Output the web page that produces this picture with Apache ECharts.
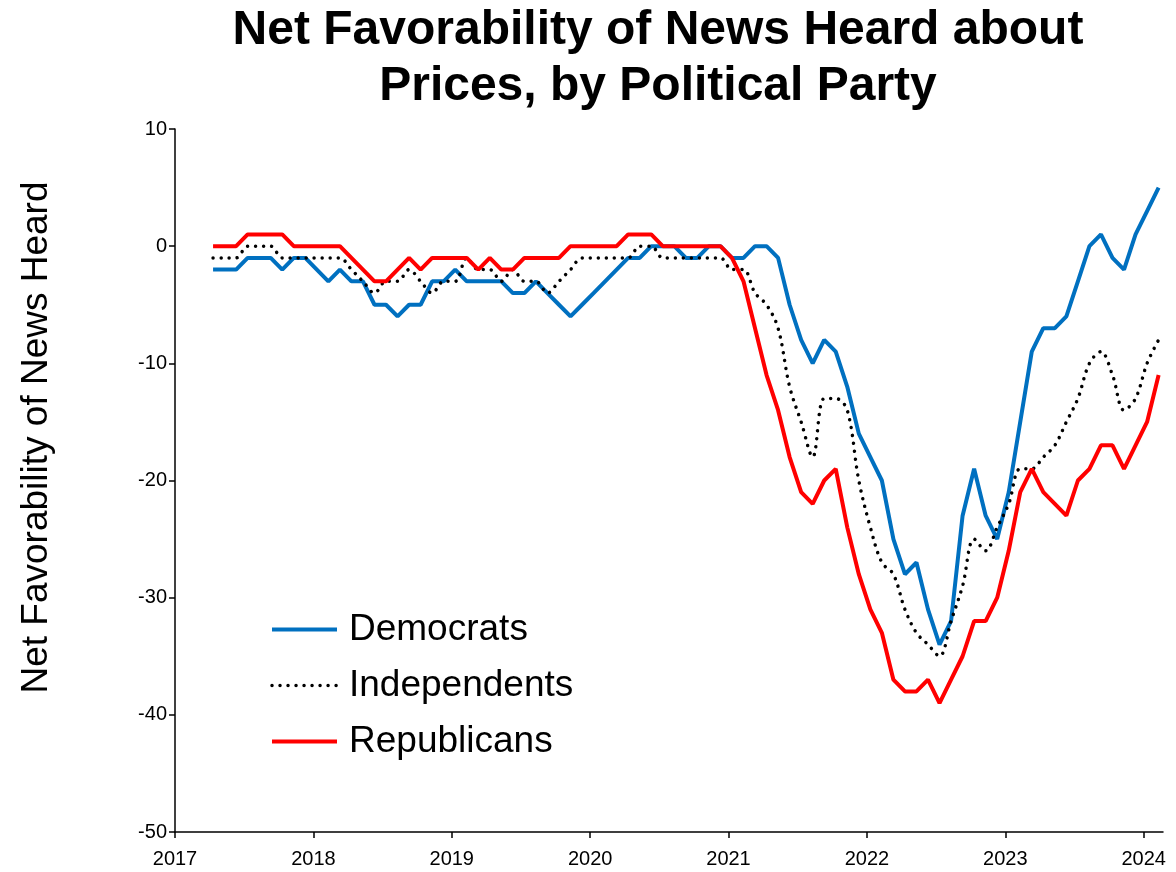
<!DOCTYPE html>
<html>
<head>
<meta charset="utf-8">
<script src="https://cdn.jsdelivr.net/npm/echarts@6/dist/echarts.min.js"></script>
<style>
  html, body { margin: 0; padding: 0; background: #fff; }
  #chart { width: 1176px; height: 872px; }
</style>
</head>
<body>
<div id="chart"></div>
<script>
// monthly readings, Apr 2017 .. Feb 2024
const firstMonth = [2017, 4];

const democrats = [
  -2, -2, -2, -1, -1, -1, -2, -1, -1, -2,
  -3, -2, -3, -3, -5, -5, -6, -5, -5, -3,
  -3, -2, -3, -3, -3, -3, -4, -4, -3, -4,
  -5, -6, -5, -4, -3, -2, -1, -1, 0, 0,
  0, -1, -1, 0, 0, -1, -1, 0, 0, -1,
  -5, -8, -10, -8, -9, -12, -16, -18, -20, -25,
  -28, -27, -31, -34, -32, -23, -19, -23, -25, -21,
  -15, -9, -7, -7, -6, -3, 0, 1, -1, -2,
  1, 3, 5
];

const independents = [
  -1, -1, -1, 0, 0, 0, -1, -1, -1, -1,
  -1, -1, -2, -3, -4, -3, -3, -2, -3, -4,
  -3, -3, -1, -2, -2, -3, -2, -3, -3, -4,
  -3, -2, -1, -1, -1, -1, -1, 0, 0, -1,
  -1, -1, -1, -1, -1, -2, -2, -4, -5, -7,
  -12, -15, -18, -13, -13, -14, -20, -24, -27, -28,
  -31, -33, -34, -35, -32, -29, -25, -26, -24, -22,
  -19, -19, -18, -17, -15, -13, -10, -9, -11, -14,
  -13, -10, -8
];

const republicans = [
  0, 0, 0, 1, 1, 1, 1, 0, 0, 0,
  0, 0, -1, -2, -3, -3, -2, -1, -2, -1,
  -1, -1, -1, -2, -1, -2, -2, -1, -1, -1,
  -1, 0, 0, 0, 0, 0, 1, 1, 1, 0,
  0, 0, 0, 0, 0, -1, -3, -7, -11, -14,
  -18, -21, -22, -20, -19, -24, -28, -31, -33, -37,
  -38, -38, -37, -39, -37, -35, -32, -32, -30, -26,
  -21, -19, -21, -22, -23, -20, -19, -17, -17, -19,
  -17, -15, -11
];

const yearTicks = [2017, 2018, 2019, 2020, 2021, 2022, 2023, 2024];

// each month as a decimal year (readings sit a little into the month)
const monthX = democrats.map((_, i) => firstMonth[0] + (firstMonth[1] - 1 + i + 0.3) / 12);
const pairs = vals => vals.map((v, i) => [monthX[i], v]);

const font = "'Liberation Sans', Arial, sans-serif";
const dotted = [0.01, 8];

const chart = echarts.init(document.getElementById('chart'));
chart.setOption({
  animation: false,
  backgroundColor: '#fff',
  textStyle: { fontFamily: font },
  title: {
    text: 'Net Favorability of News Heard about\nPrices, by Political Party',
    left: 658,
    top: 3,
    padding: 0,
    textAlign: 'center',
    textStyle: { fontFamily: font, fontSize: 48, fontWeight: 'bold', color: '#000', lineHeight: 56 }
  },
  grid: { left: 175, right: 13, top: 129, bottom: 40, containLabel: false },
  legend: {
    orient: 'vertical',
    left: 270,
    top: 611,
    padding: 0,
    itemWidth: 65,
    itemHeight: 14,
    itemGap: 19,
    itemStyle: { opacity: 0 },
    lineStyle: { width: 4 },
    textStyle: { fontFamily: font, fontSize: 37, color: '#000', lineHeight: 37, padding: [0, 0, 0, 7] },
    data: [
      { name: 'Democrats' },
      { name: 'Independents', lineStyle: { width: 3.5, type: dotted, cap: 'round' } },
      { name: 'Republicans' }
    ]
  },
  xAxis: {
    type: 'value',
    min: 2017,
    max: 2024.14,
    interval: 1,
    splitLine: { show: false },
    axisLine: { show: true, onZero: false, lineStyle: { color: '#000', width: 1.5 } },
    axisTick: { show: true, length: 6, customValues: yearTicks, lineStyle: { color: '#000', width: 1.5 } },
    axisLabel: {
      customValues: yearTicks,
      margin: 17,
      fontSize: 20,
      color: '#000',
      fontFamily: font,
      formatter: v => String(v)
    }
  },
  yAxis: {
    type: 'value',
    min: -50,
    max: 10,
    interval: 10,
    name: 'Net Favorability of News Heard',
    nameLocation: 'middle',
    nameRotate: 90,
    nameGap: 120,
    nameTextStyle: { fontFamily: font, fontSize: 37, color: '#000', padding: [0, 0, 0, 86] },
    splitLine: { show: false },
    axisLine: { show: true, lineStyle: { color: '#000', width: 1.5 } },
    axisTick: { show: true, length: 6, lineStyle: { color: '#000', width: 1.5 } },
    axisLabel: { margin: 8, fontSize: 20, color: '#000', fontFamily: font }
  },
  series: [
    {
      name: 'Democrats',
      type: 'line',
      symbol: 'none',
      data: pairs(democrats),
      itemStyle: { color: '#0070C0' },
      lineStyle: { color: '#0070C0', width: 4 }
    },
    {
      name: 'Independents',
      type: 'line',
      symbol: 'none',
      smooth: 0.35,
      data: pairs(independents),
      itemStyle: { color: '#000' },
      lineStyle: { color: '#000', width: 3.5, type: dotted, cap: 'round' }
    },
    {
      name: 'Republicans',
      type: 'line',
      symbol: 'none',
      data: pairs(republicans),
      itemStyle: { color: '#FF0000' },
      lineStyle: { color: '#FF0000', width: 4 }
    }
  ]
});
</script>
</body>
</html>
